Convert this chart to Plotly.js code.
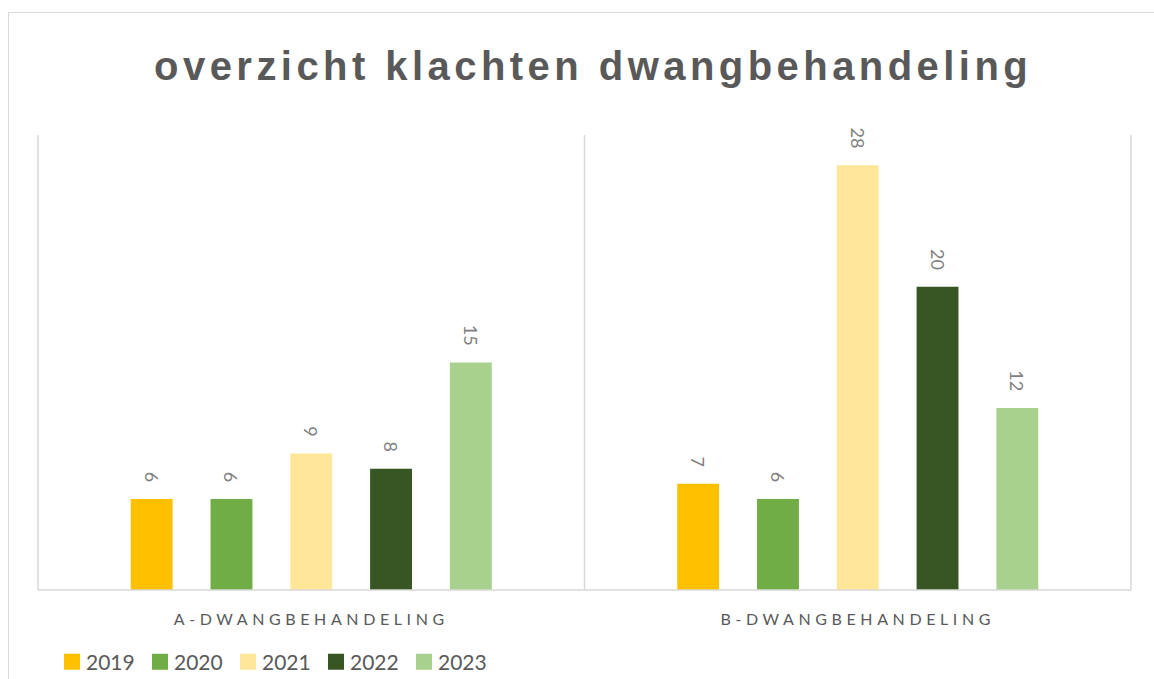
<!DOCTYPE html>
<html>
<head>
<meta charset="utf-8">
<script src="https://cdn.plot.ly/plotly-3.0.1.min.js"></script>
<style>
  html, body { margin: 0; padding: 0; background: #ffffff; }
  #frame { position: absolute; left: 8px; top: 12px; width: 1160px; height: 700px; border: 1.5px solid #d9d9d9; box-sizing: border-box; }
  #chart { position: absolute; left: 0; top: 0; width: 1154px; height: 679px; }
  .gtitle { letter-spacing: 4.45px; }
  .xtick text { letter-spacing: 4.6px; }
</style>
</head>
<body>
<div id="frame"></div>
<div id="chart"></div>
<script>
const categories = ["A-DWANGBEHANDELING", "B-DWANGBEHANDELING"];
const years = ["2019", "2020", "2021", "2022", "2023"];
const values2019 = [6, 7];
const values2020 = [6, 6];
const values2021 = [9, 28];
const values2022 = [8, 20];
const values2023 = [15, 12];
const colors = ["#FFC000", "#70AD47", "#FFE699", "#375623", "#A9D18E"];

const seriesValues = [values2019, values2020, values2021, values2022, values2023];

const traces = years.map((yr, i) => ({
  type: "bar",
  name: yr,
  x: categories,
  y: seriesValues[i],
  marker: { color: colors[i] },
  text: seriesValues[i].map(String),
  texttemplate: "%{text}\u00a0\u00a0\u00a0",
  textposition: "outside",
  textangle: 90,
  cliponaxis: false,
  textfont: { family: "Lato, 'Liberation Sans', sans-serif", size: 18, color: "#7f7f7f" },
  hoverinfo: "x+y+name"
}));

const layout = {
  width: 1154,
  height: 679,
  margin: { l: 38, r: 23, t: 135, b: 89 },
  paper_bgcolor: "rgba(0,0,0,0)",
  plot_bgcolor: "rgba(0,0,0,0)",
  title: {
    text: "overzicht klachten dwangbehandeling",
    font: { family: "'Liberation Sans', Arial, sans-serif", size: 40, color: "#595959", weight: "bold" },
    x: 0.514, xanchor: "center", xref: "container",
    y: 1 - 66 / 679, yanchor: "middle", yref: "container"
  },
  barmode: "group",
  bargap: 0.27,
  bargroupgap: 0.475,
  showlegend: true,
  legend: {
    orientation: "h",
    xref: "container",
    x: 46 / 1154, xanchor: "left",
    yref: "container",
    y: 1 - 662 / 679, yanchor: "middle",
    font: { family: "Lato, 'Liberation Sans', sans-serif", size: 21, color: "#595959" },
    entrywidth: 43, entrywidthmode: "pixels",
    itemclick: false
  },
  xaxis: {
    type: "category",
    range: [-0.5, 1.5],
    automargin: false,
    showgrid: false,
    zeroline: false,
    showline: false,
    ticks: "",
    ticklabelstandoff: 18,
    tickfont: { family: "Lato, 'Liberation Sans', sans-serif", size: 16, color: "#595959" },
    fixedrange: true
  },
  yaxis: {
    range: [0, 30],
    automargin: false,
    showgrid: false,
    zeroline: false,
    showline: false,
    showticklabels: false,
    ticks: "",
    fixedrange: true
  },
  shapes: [
    { type: "line", xref: "paper", yref: "paper", x0: 0, x1: 0, y0: 0, y1: 1, line: { color: "#d9d9d9", width: 1.5 } },
    { type: "line", xref: "paper", yref: "paper", x0: 0.5, x1: 0.5, y0: 0, y1: 1, line: { color: "#d9d9d9", width: 1.5 } },
    { type: "line", xref: "paper", yref: "paper", x0: 1, x1: 1, y0: 0, y1: 1, line: { color: "#d9d9d9", width: 1.5 } },
    { type: "line", xref: "paper", yref: "paper", x0: 0, x1: 1, y0: 0, y1: 0, line: { color: "#d9d9d9", width: 1.5 } }
  ]
};

Plotly.newPlot("chart", traces, layout, { displayModeBar: false }).then(gd => {
  gd.querySelectorAll(".legend .legendpoints path").forEach(p => {
    p.setAttribute("d", "M-2,-8h16v16h-16z");
  });
});
</script>
</body>
</html>
